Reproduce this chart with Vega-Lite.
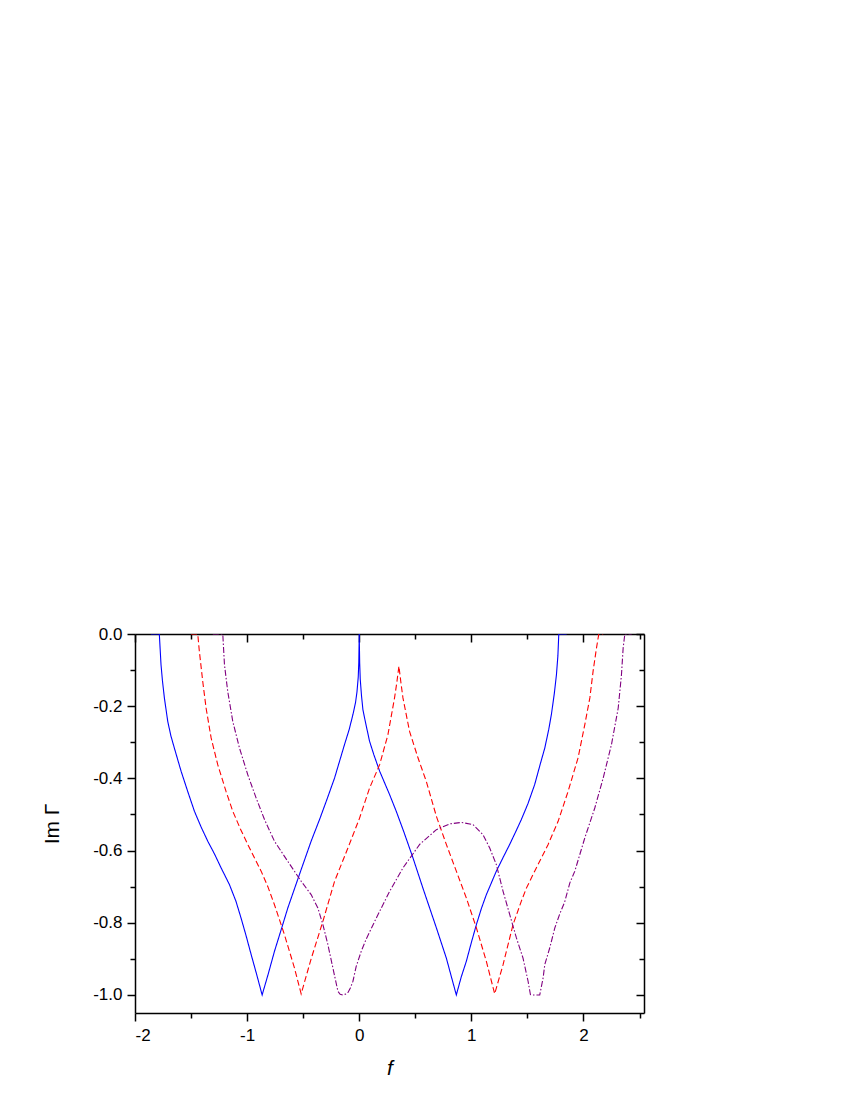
{
  "$schema": "https://vega.github.io/schema/vega-lite/v6.json",
  "width": 509,
  "height": 379,
  "padding": {"left": 41, "top": 625, "right": 5, "bottom": 5},
  "config": {
    "view": {"stroke": null},
    "axis": {
      "labelFont": "Liberation Sans",
      "labelFontSize": 17,
      "labelColor": "black",
      "titleFont": "Liberation Sans",
      "titleFontSize": 21,
      "titleFontWeight": "normal",
      "titleColor": "black",
      "domainColor": "black",
      "domainWidth": 1.5,
      "tickColor": "black",
      "tickWidth": 1.5,
      "grid": false
    }
  },
  "data": {
    "values": [
      {"s": "a", "x": -1.86, "y": 0},
      {"s": "a", "x": -1.783, "y": 0},
      {"s": "a", "x": -1.776, "y": -0.04},
      {"s": "a", "x": -1.768, "y": -0.085},
      {"s": "a", "x": -1.755, "y": -0.13},
      {"s": "a", "x": -1.738, "y": -0.177},
      {"s": "a", "x": -1.708, "y": -0.242},
      {"s": "a", "x": -1.68, "y": -0.282},
      {"s": "a", "x": -1.649, "y": -0.316},
      {"s": "a", "x": -1.589, "y": -0.38},
      {"s": "a", "x": -1.53, "y": -0.436},
      {"s": "a", "x": -1.47, "y": -0.491},
      {"s": "a", "x": -1.41, "y": -0.535},
      {"s": "a", "x": -1.351, "y": -0.574},
      {"s": "a", "x": -1.29, "y": -0.61},
      {"s": "a", "x": -1.232, "y": -0.648},
      {"s": "a", "x": -1.158, "y": -0.694},
      {"s": "a", "x": -1.1, "y": -0.74},
      {"s": "a", "x": -1.054, "y": -0.787},
      {"s": "a", "x": -1.01, "y": -0.835},
      {"s": "a", "x": -0.964, "y": -0.888},
      {"s": "a", "x": -0.915, "y": -0.943},
      {"s": "a", "x": -0.866, "y": -1.0},
      {"s": "a", "x": -0.81, "y": -0.94},
      {"s": "a", "x": -0.756, "y": -0.879},
      {"s": "a", "x": -0.697, "y": -0.82},
      {"s": "a", "x": -0.637, "y": -0.759},
      {"s": "a", "x": -0.533, "y": -0.666},
      {"s": "a", "x": -0.429, "y": -0.574},
      {"s": "a", "x": -0.354, "y": -0.514},
      {"s": "a", "x": -0.29, "y": -0.46},
      {"s": "a", "x": -0.22, "y": -0.399},
      {"s": "a", "x": -0.131, "y": -0.306},
      {"s": "a", "x": -0.09, "y": -0.265},
      {"s": "a", "x": -0.056, "y": -0.223},
      {"s": "a", "x": -0.033, "y": -0.19},
      {"s": "a", "x": -0.02, "y": -0.16},
      {"s": "a", "x": -0.009, "y": -0.12},
      {"s": "a", "x": -0.004, "y": -0.08},
      {"s": "a", "x": 0, "y": 0},
      {"s": "a", "x": 0.004, "y": -0.08},
      {"s": "a", "x": 0.009, "y": -0.125},
      {"s": "a", "x": 0.02, "y": -0.17},
      {"s": "a", "x": 0.033, "y": -0.21},
      {"s": "a", "x": 0.056, "y": -0.245},
      {"s": "a", "x": 0.092, "y": -0.297},
      {"s": "a", "x": 0.131, "y": -0.335},
      {"s": "a", "x": 0.182, "y": -0.38},
      {"s": "a", "x": 0.271, "y": -0.445},
      {"s": "a", "x": 0.33, "y": -0.491},
      {"s": "a", "x": 0.4, "y": -0.55},
      {"s": "a", "x": 0.479, "y": -0.62},
      {"s": "a", "x": 0.568, "y": -0.704},
      {"s": "a", "x": 0.688, "y": -0.814},
      {"s": "a", "x": 0.777, "y": -0.898},
      {"s": "a", "x": 0.866, "y": -1.0},
      {"s": "a", "x": 0.91, "y": -0.95},
      {"s": "a", "x": 0.955, "y": -0.907},
      {"s": "a", "x": 1.0, "y": -0.855},
      {"s": "a", "x": 1.045, "y": -0.805},
      {"s": "a", "x": 1.09, "y": -0.76},
      {"s": "a", "x": 1.134, "y": -0.722},
      {"s": "a", "x": 1.223, "y": -0.657},
      {"s": "a", "x": 1.29, "y": -0.615},
      {"s": "a", "x": 1.342, "y": -0.583},
      {"s": "a", "x": 1.4, "y": -0.545},
      {"s": "a", "x": 1.446, "y": -0.514},
      {"s": "a", "x": 1.505, "y": -0.47},
      {"s": "a", "x": 1.565, "y": -0.417},
      {"s": "a", "x": 1.615, "y": -0.36},
      {"s": "a", "x": 1.655, "y": -0.316},
      {"s": "a", "x": 1.69, "y": -0.265},
      {"s": "a", "x": 1.714, "y": -0.223},
      {"s": "a", "x": 1.74, "y": -0.165},
      {"s": "a", "x": 1.759, "y": -0.113},
      {"s": "a", "x": 1.772, "y": -0.06},
      {"s": "a", "x": 1.78, "y": 0},
      {"s": "a", "x": 1.85, "y": 0},

      {"s": "b", "x": -1.5, "y": 0},
      {"s": "b", "x": -1.44, "y": 0},
      {"s": "b", "x": -1.433, "y": -0.025},
      {"s": "b", "x": -1.426, "y": -0.048},
      {"s": "b", "x": -1.396, "y": -0.131},
      {"s": "b", "x": -1.366, "y": -0.205},
      {"s": "b", "x": -1.321, "y": -0.288},
      {"s": "b", "x": -1.262, "y": -0.362},
      {"s": "b", "x": -1.188, "y": -0.436},
      {"s": "b", "x": -1.128, "y": -0.491},
      {"s": "b", "x": -1.06, "y": -0.54},
      {"s": "b", "x": -0.994, "y": -0.583},
      {"s": "b", "x": -0.935, "y": -0.62},
      {"s": "b", "x": -0.875, "y": -0.657},
      {"s": "b", "x": -0.815, "y": -0.7},
      {"s": "b", "x": -0.756, "y": -0.75},
      {"s": "b", "x": -0.667, "y": -0.833},
      {"s": "b", "x": -0.578, "y": -0.925},
      {"s": "b", "x": -0.518, "y": -0.997},
      {"s": "b", "x": -0.475, "y": -0.95},
      {"s": "b", "x": -0.429, "y": -0.9},
      {"s": "b", "x": -0.324, "y": -0.796},
      {"s": "b", "x": -0.22, "y": -0.685},
      {"s": "b", "x": -0.101, "y": -0.593},
      {"s": "b", "x": 0.003, "y": -0.51},
      {"s": "b", "x": 0.092, "y": -0.427},
      {"s": "b", "x": 0.182, "y": -0.362},
      {"s": "b", "x": 0.256, "y": -0.279},
      {"s": "b", "x": 0.315, "y": -0.177},
      {"s": "b", "x": 0.335, "y": -0.135},
      {"s": "b", "x": 0.354, "y": -0.089},
      {"s": "b", "x": 0.372, "y": -0.135},
      {"s": "b", "x": 0.39, "y": -0.177},
      {"s": "b", "x": 0.449, "y": -0.27},
      {"s": "b", "x": 0.524, "y": -0.343},
      {"s": "b", "x": 0.598, "y": -0.408},
      {"s": "b", "x": 0.688, "y": -0.505},
      {"s": "b", "x": 0.777, "y": -0.583},
      {"s": "b", "x": 0.866, "y": -0.657},
      {"s": "b", "x": 0.955, "y": -0.731},
      {"s": "b", "x": 1.045, "y": -0.814},
      {"s": "b", "x": 1.134, "y": -0.907},
      {"s": "b", "x": 1.208, "y": -0.997},
      {"s": "b", "x": 1.283, "y": -0.916},
      {"s": "b", "x": 1.372, "y": -0.805},
      {"s": "b", "x": 1.446, "y": -0.74},
      {"s": "b", "x": 1.491, "y": -0.704},
      {"s": "b", "x": 1.565, "y": -0.657},
      {"s": "b", "x": 1.64, "y": -0.611},
      {"s": "b", "x": 1.685, "y": -0.583},
      {"s": "b", "x": 1.774, "y": -0.519},
      {"s": "b", "x": 1.863, "y": -0.436},
      {"s": "b", "x": 1.952, "y": -0.343},
      {"s": "b", "x": 2.012, "y": -0.251},
      {"s": "b", "x": 2.057, "y": -0.177},
      {"s": "b", "x": 2.086, "y": -0.103},
      {"s": "b", "x": 2.116, "y": -0.039},
      {"s": "b", "x": 2.137, "y": 0},
      {"s": "b", "x": 2.176, "y": 0},

      {"s": "c", "x": -1.306, "y": 0},
      {"s": "c", "x": -1.217, "y": 0},
      {"s": "c", "x": -1.21, "y": -0.04},
      {"s": "c", "x": -1.202, "y": -0.085},
      {"s": "c", "x": -1.173, "y": -0.159},
      {"s": "c", "x": -1.128, "y": -0.242},
      {"s": "c", "x": -1.068, "y": -0.316},
      {"s": "c", "x": -0.994, "y": -0.39},
      {"s": "c", "x": -0.92, "y": -0.454},
      {"s": "c", "x": -0.845, "y": -0.514},
      {"s": "c", "x": -0.756, "y": -0.574},
      {"s": "c", "x": -0.637, "y": -0.63},
      {"s": "c", "x": -0.518, "y": -0.685},
      {"s": "c", "x": -0.429, "y": -0.722},
      {"s": "c", "x": -0.369, "y": -0.759},
      {"s": "c", "x": -0.324, "y": -0.805},
      {"s": "c", "x": -0.28, "y": -0.86},
      {"s": "c", "x": -0.235, "y": -0.925},
      {"s": "c", "x": -0.19, "y": -0.99},
      {"s": "c", "x": -0.17, "y": -0.998},
      {"s": "c", "x": -0.146, "y": -1.0},
      {"s": "c", "x": -0.115, "y": -0.997},
      {"s": "c", "x": -0.1, "y": -0.993},
      {"s": "c", "x": -0.078, "y": -0.98},
      {"s": "c", "x": -0.056, "y": -0.962},
      {"s": "c", "x": -0.027, "y": -0.921},
      {"s": "c", "x": 0.018, "y": -0.879},
      {"s": "c", "x": 0.0625, "y": -0.845},
      {"s": "c", "x": 0.152, "y": -0.787},
      {"s": "c", "x": 0.271, "y": -0.713},
      {"s": "c", "x": 0.39, "y": -0.648},
      {"s": "c", "x": 0.539, "y": -0.583},
      {"s": "c", "x": 0.688, "y": -0.542},
      {"s": "c", "x": 0.807, "y": -0.526},
      {"s": "c", "x": 0.911, "y": -0.522},
      {"s": "c", "x": 1.015, "y": -0.528},
      {"s": "c", "x": 1.104, "y": -0.556},
      {"s": "c", "x": 1.164, "y": -0.593},
      {"s": "c", "x": 1.223, "y": -0.639},
      {"s": "c", "x": 1.283, "y": -0.713},
      {"s": "c", "x": 1.342, "y": -0.777},
      {"s": "c", "x": 1.402, "y": -0.842},
      {"s": "c", "x": 1.461, "y": -0.898},
      {"s": "c", "x": 1.506, "y": -0.962},
      {"s": "c", "x": 1.527, "y": -0.999},
      {"s": "c", "x": 1.545, "y": -1.0},
      {"s": "c", "x": 1.61, "y": -1.0},
      {"s": "c", "x": 1.64, "y": -0.953},
      {"s": "c", "x": 1.655, "y": -0.916},
      {"s": "c", "x": 1.699, "y": -0.87},
      {"s": "c", "x": 1.744, "y": -0.815},
      {"s": "c", "x": 1.789, "y": -0.775},
      {"s": "c", "x": 1.833, "y": -0.742},
      {"s": "c", "x": 1.878, "y": -0.69},
      {"s": "c", "x": 1.923, "y": -0.657},
      {"s": "c", "x": 2.012, "y": -0.565},
      {"s": "c", "x": 2.101, "y": -0.482},
      {"s": "c", "x": 2.176, "y": -0.399},
      {"s": "c", "x": 2.25, "y": -0.306},
      {"s": "c", "x": 2.31, "y": -0.205},
      {"s": "c", "x": 2.339, "y": -0.113},
      {"s": "c", "x": 2.354, "y": -0.039},
      {"s": "c", "x": 2.369, "y": 0},
      {"s": "c", "x": 2.43, "y": 0}
    ]
  },
  "layer": [
    {
      "mark": {"type": "line", "strokeWidth": 1.1, "clip": true},
      "encoding": {
        "x": {
          "field": "x",
          "type": "quantitative",
          "scale": {"domain": [-2, 2.54], "nice": false, "zero": false},
          "axis": {
            "orient": "bottom",
            "title": "f",
            "titleFontStyle": "italic",
            "titlePadding": 14,
            "values": [-2, -1.5, -1, -0.5, 0, 0.5, 1, 1.5, 2, 2.5],
            "labelExpr": "datum.value % 1 != 0 ? '' : (datum.value < 0 ? '-' : '') + format(abs(datum.value), 'd')",
            "labelPadding": 6,
            "tickSize": {"condition": {"test": "datum.value % 1 != 0", "value": 5}, "value": 8}
          }
        },
        "y": {
          "field": "y",
          "type": "quantitative",
          "scale": {"domain": [-1.05, 0], "nice": false, "zero": false},
          "axis": {
            "orient": "left",
            "title": "Im Γ",
            "titlePadding": 30,
            "values": [-1, -0.9, -0.8, -0.7, -0.6, -0.5, -0.4, -0.3, -0.2, -0.1, 0],
            "labelExpr": "abs(round(datum.value * 10)) % 2 == 1 ? '' : (datum.value < 0 ? '-' : '') + format(abs(datum.value), '.1f')",
            "labelPadding": 5,
            "tickSize": {"condition": {"test": "abs(round(datum.value * 10)) % 2 == 1", "value": 5}, "value": 8}
          }
        },
        "color": {
          "field": "s",
          "type": "nominal",
          "scale": {"domain": ["a", "b", "c"], "range": ["#0000ff", "#ff0000", "#800080"]},
          "legend": null
        },
        "strokeDash": {
          "field": "s",
          "type": "nominal",
          "scale": {"domain": ["a", "b", "c"], "range": [[1, 0], [6, 3], [6, 2, 1.5, 2]]},
          "legend": null
        }
      }
    },
    {
      "mark": {"type": "line", "opacity": 0},
      "encoding": {
        "x": {
          "field": "x",
          "type": "quantitative",
          "scale": {"domain": [-2, 2.54], "nice": false, "zero": false},
          "axis": {
            "orient": "top",
            "title": null,
            "labels": false,
            "values": [-2, -1.5, -1, -0.5, 0, 0.5, 1, 1.5, 2, 2.5],
            "tickSize": {"condition": {"test": "datum.value % 1 != 0", "value": -5}, "value": -8}
          }
        },
        "y": {
          "field": "y",
          "type": "quantitative",
          "scale": {"domain": [-1.05, 0], "nice": false, "zero": false},
          "axis": {
            "orient": "right",
            "title": null,
            "labels": false,
            "values": [-1, -0.9, -0.8, -0.7, -0.6, -0.5, -0.4, -0.3, -0.2, -0.1, 0],
            "tickSize": {"condition": {"test": "abs(round(datum.value * 10)) % 2 == 1", "value": -5}, "value": -8}
          }
        },
        "detail": {"field": "s", "type": "nominal"}
      }
    }
  ],
  "resolve": {"scale": {"x": "independent", "y": "independent"}, "axis": {"x": "independent", "y": "independent"}}
}
